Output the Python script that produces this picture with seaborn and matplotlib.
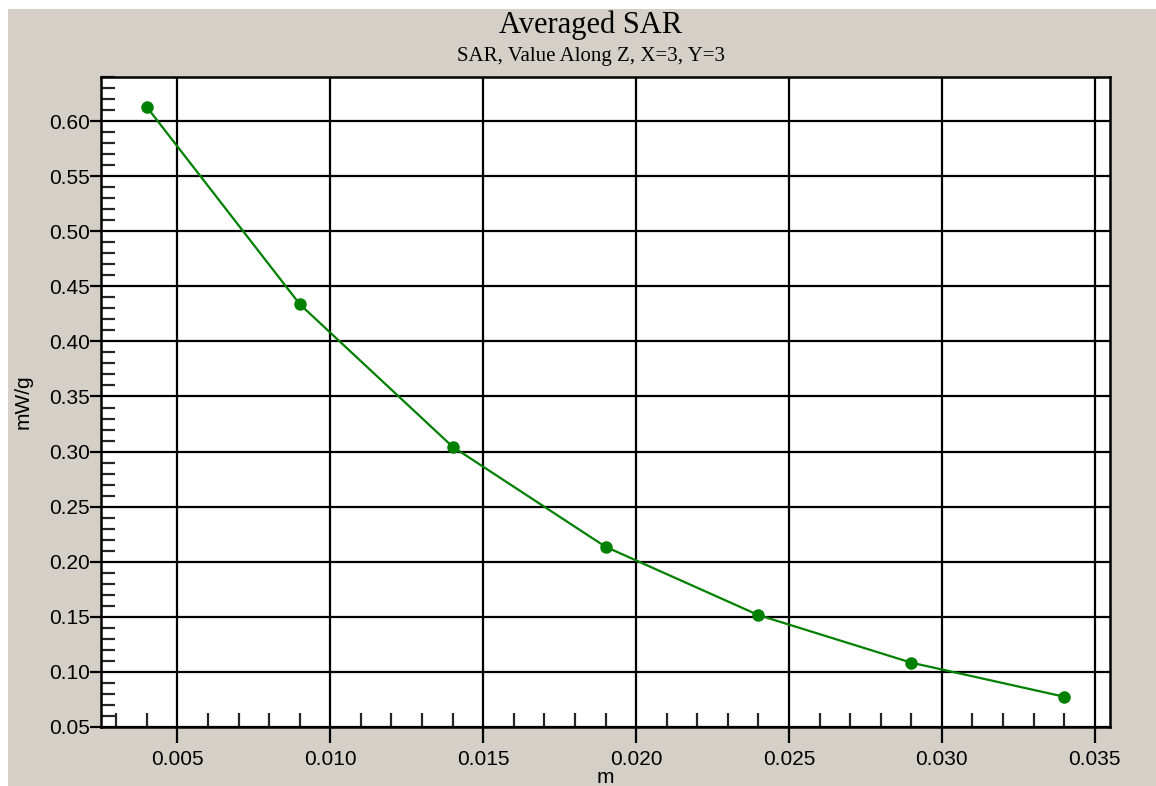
import matplotlib
matplotlib.use("Agg")
import matplotlib.pyplot as plt
from matplotlib.patches import Rectangle
from matplotlib.ticker import MultipleLocator, FormatStrFormatter
import seaborn as sns
import pandas as pd

# SAR values averaged along Z at X=3, Y=3
depth_m = [0.004, 0.009, 0.014, 0.019, 0.024, 0.029, 0.034]
sar_mw_g = [0.6127, 0.4338, 0.3044, 0.2136, 0.1516, 0.1084, 0.0775]

title = "Averaged SAR"
subtitle = "SAR, Value Along Z, X=3, Y=3"
x_label = "m"
y_label = "mW/g"

sns.set_style("white")
plt.rcParams["font.family"] = ["Liberation Sans", "DejaVu Sans"]
plt.rcParams["text.color"] = "black"
plt.rcParams["axes.labelcolor"] = "black"

W, H = 1156, 786
fig = plt.figure(figsize=(W / 100, H / 100), dpi=100)
fig.patch.set_facecolor("white")
panel = "#d4d0c8"
fig.patches.append(Rectangle((8 / W, 0), 1 - 8 / W, (H - 9) / H,
                             transform=fig.transFigure, facecolor=panel,
                             edgecolor="none", zorder=-10))

ax = fig.add_axes([101 / W, (H - 727) / H, (1110 - 101) / W, (727 - 77) / H])
ax.set_facecolor("white")

df = pd.DataFrame({"m": depth_m, "sar": sar_mw_g})
sns.lineplot(data=df, x="m", y="sar", ax=ax, color="#008000", linewidth=1.6,
             marker="o", markersize=9, markeredgewidth=0, zorder=5)

ax.set_xlim(0.0025, 0.0355)
ax.set_ylim(0.05, 0.64)

ax.xaxis.set_major_locator(MultipleLocator(0.005))
ax.xaxis.set_minor_locator(MultipleLocator(0.001))
ax.yaxis.set_major_locator(MultipleLocator(0.05))
ax.yaxis.set_minor_locator(MultipleLocator(0.01))
ax.xaxis.set_major_formatter(FormatStrFormatter("%.3f"))
ax.yaxis.set_major_formatter(FormatStrFormatter("%.2f"))

ax.grid(True, which="major", color="black", linewidth=1.6)
ax.set_axisbelow(True)

for s in ax.spines.values():
    s.set_color("black")
    s.set_linewidth(1.8)

ax.tick_params(axis="x", which="major", direction="out", length=11.5, width=1.6,
               labelsize=15, pad=5, colors="black", bottom=True)
ax.tick_params(axis="x", which="minor", direction="in", length=10, width=1.6,
               bottom=True)
ax.tick_params(axis="y", which="major", direction="out", length=8, width=1.6,
               labelsize=15, pad=0, colors="black", left=True)
ax.tick_params(axis="y", which="minor", direction="in", length=10, width=1.6,
               left=True)

ax.set_xlabel(x_label, fontsize=15, labelpad=-1)
ax.set_ylabel(y_label, fontsize=15, labelpad=12)

fig.text(591 / W, 1 - 33 / H, title, ha="center", va="baseline",
         fontsize=22, family=["Liberation Serif"], color="black")
fig.text(591 / W, 1 - 61 / H, subtitle, ha="center", va="baseline",
         fontsize=15, family=["Liberation Serif"], color="black")

fig.savefig("out.png", dpi=100, facecolor=fig.get_facecolor())
